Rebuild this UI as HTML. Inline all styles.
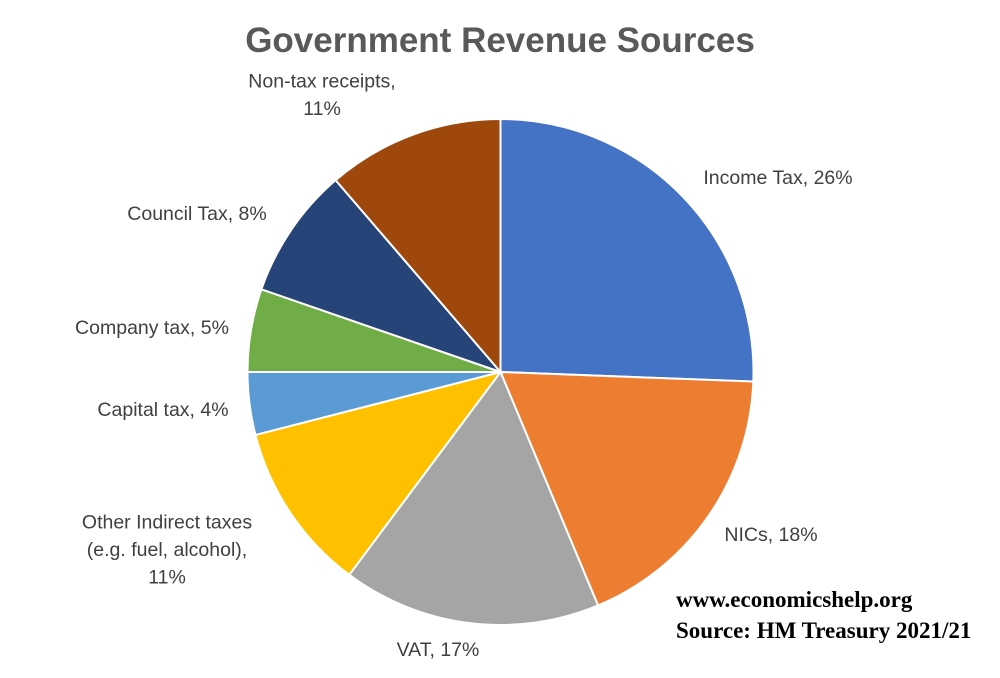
<!DOCTYPE html>
<html><head><meta charset="utf-8"><style>
body{margin:0;background:#fff;}
svg{display:block;font-family:"Liberation Sans",sans-serif;}
</style></head><body>
<svg id="chart" width="1000" height="678" viewBox="0 0 1000 678">
<text x="500" y="52" text-anchor="middle" font-size="35" font-weight="bold" fill="#595959">Government Revenue Sources</text>
<g id="slices"></g>
<g id="labels" font-size="19.5" fill="#404040"></g>
<text x="676" y="607" font-family="Liberation Serif,serif" font-weight="bold" font-size="23" fill="#000">www.economicshelp.org</text>
<text x="676" y="638" font-family="Liberation Serif,serif" font-weight="bold" font-size="23" fill="#000">Source: HM Treasury 2021/21</text>
</svg>
<script>
const categories=["Income Tax","NICs","VAT","Other Indirect taxes","Capital tax","Company tax","Council Tax","Non-tax receipts"];
const values=[25.6,18.1,16.5,10.8,4.0,5.3,8.4,11.3];
const valueLabels=["26%","18%","17%","11%","4%","5%","8%","11%"];
const colors=["#4472C4","#ED7D31","#A5A5A5","#FFC000","#5B9BD5","#70AD47","#264478","#9E480E"];
const labelLines=[["Income Tax, 26%"],["NICs, 18%"],["VAT, 17%"],["Other Indirect taxes","(e.g. fuel, alcohol),","11%"],["Capital tax, 4%"],["Company tax, 5%"],["Council Tax, 8%"],["Non-tax receipts,","11%"]];
const labelPos=[[778,184],[771,541],[438,656],[167,556],[163,416],[152,334],[197,220],[322,101]];
const cx=500.5,cy=372,r=253;
const ns="http://www.w3.org/2000/svg";
const total=values.reduce((a,b)=>a+b,0);
function pt(f){const a=f*2*Math.PI;return [cx+r*Math.sin(a),cy-r*Math.cos(a)];}
let cum=0;
const gs=document.getElementById('slices'),gl=document.getElementById('labels');
values.forEach((v,i)=>{
  const f0=cum/total;cum+=v;const f1=cum/total;
  const [x0,y0]=pt(f0),[x1,y1]=pt(f1);
  const p=document.createElementNS(ns,'path');
  p.setAttribute('d',`M${cx},${cy}L${x0},${y0}A${r},${r} 0 ${f1-f0>0.5?1:0} 1 ${x1},${y1}Z`);
  p.setAttribute('fill',colors[i]);p.setAttribute('stroke','#fff');p.setAttribute('stroke-width','2');
  
  
  gs.appendChild(p);
  const t=document.createElementNS(ns,'text');
  t.setAttribute('text-anchor','middle');
  
  
  const lines=labelLines[i];
  const [lx,ly]=labelPos[i];
  lines.forEach((ln,j)=>{const s=document.createElementNS(ns,'tspan');s.setAttribute('x',lx);s.setAttribute('y',ly+(j-(lines.length-1)/2)*27.5);s.textContent=ln;t.appendChild(s);});
  gl.appendChild(t);
});
</script>
</body></html>
